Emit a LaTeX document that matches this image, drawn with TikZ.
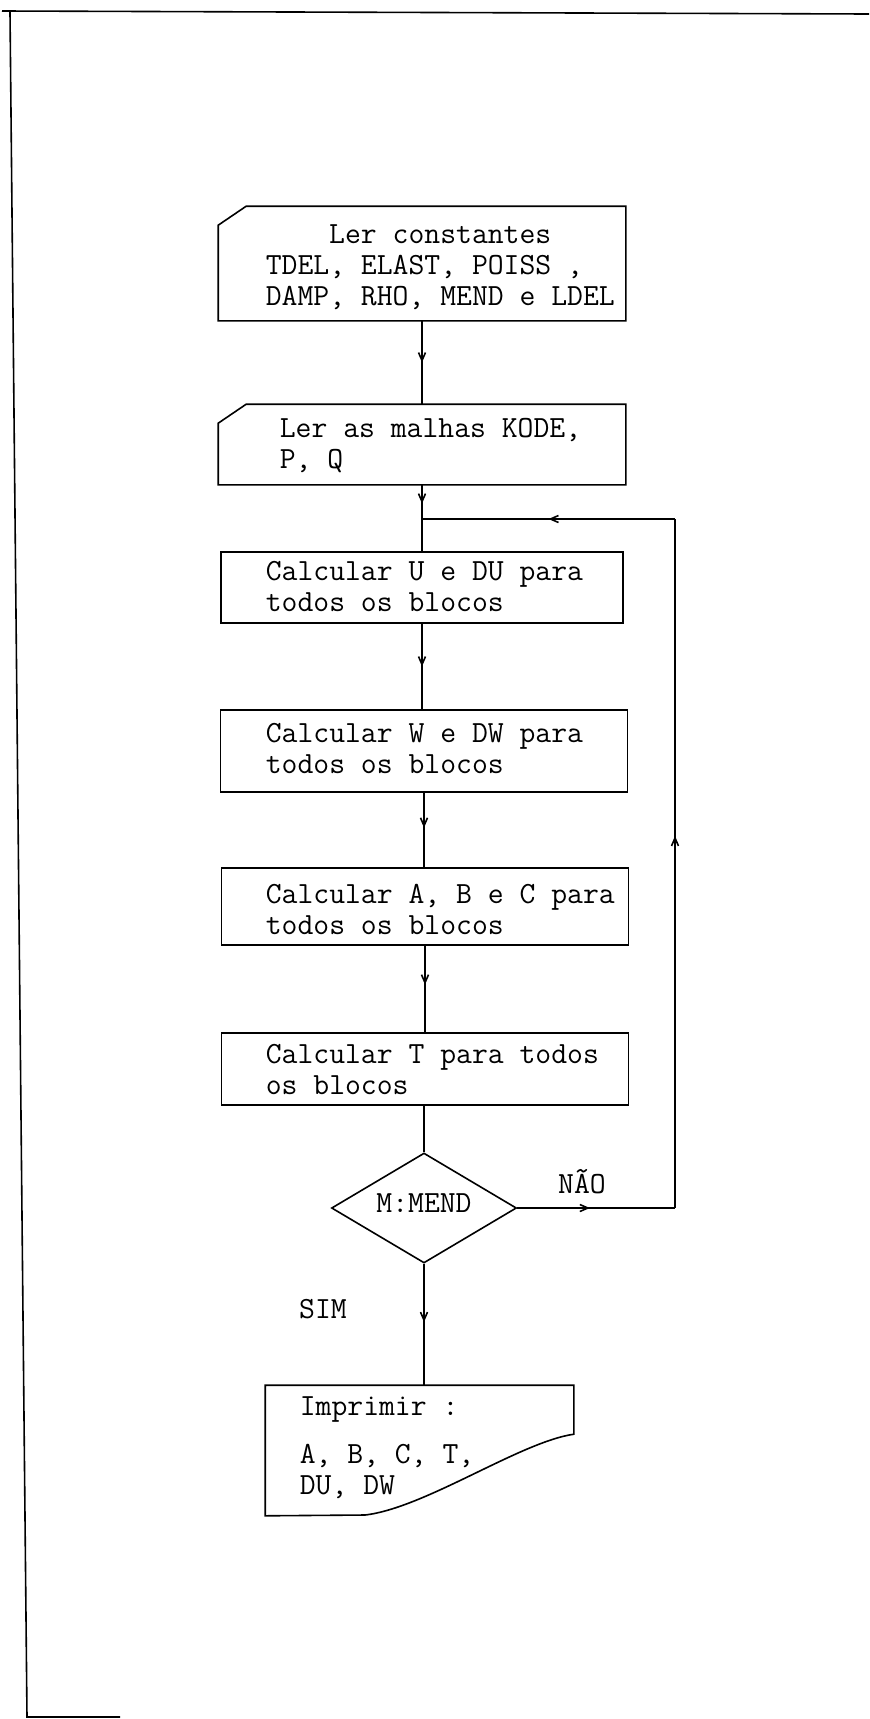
\documentclass[tikz,border=0pt]{standalone}
\usetikzlibrary{shapes.geometric,arrows.meta,decorations.markings}
\tikzset{
  flow/.style = {postaction = {decorate}, decoration = {markings, mark = at position #1 with {\arrow{Straight Barb[length = 4pt, width = 3.5pt]}}}},
  flow/.default = 0.5,
  blk/.style = {draw, inner sep = 0pt},
  card/.style = {inner sep = 0pt},
  dec/.style = {draw, diamond, aspect = 1.68, minimum width = 92.5pt, minimum height = 55pt, inner sep = 0pt, font = \ttfamily\fontsize{15.4}{16}\selectfont},
  txt/.style = {anchor = north west, align = left, inner sep = 0pt, font = \ttfamily\fontsize{15.4}{15.5}\selectfont},
  lbl/.style = {inner sep = 0pt, font = \ttfamily\fontsize{15.4}{16}\selectfont}
}
\begin{document}
\begin{tikzpicture}[x = 0.5pt, y = -0.5pt, line width = 0.8pt]
  \useasboundingbox (0,0) rectangle (869,1719);
  \draw (2,11) -- (869,14);
  \draw (10,12) -- (27,1717) -- (120,1717);

  \node [card, minimum width = 203pt, minimum height = 56.5pt] (b1) at (422,263.5) {};
  \node [card, minimum width = 203pt, minimum height = 39.5pt] (b2) at (422,444.5) {};
  \foreach \n in {b1, b2}{
    \draw (\n.north west) ++(0,19) -- ++(28,-19) -- (\n.north east) |- (\n.south west) -- cycle;
  }
  \node [blk, minimum width = 201pt, minimum height = 35.5pt] (b3) at (422,587.5) {};
  \node [blk, minimum width = 203.5pt, minimum height = 41pt] (b4) at (424,751) {};
  \node [blk, minimum width = 203.5pt, minimum height = 38.5pt] (b5) at (425,906.5) {};
  \node [blk, minimum width = 203.5pt, minimum height = 36pt] (b6) at (425,1069) {};
  \node [dec] (dec) at (424,1208) {\raisebox{5pt}{M:MEND}};
  \node [card, minimum width = 153.5pt, minimum height = 64.5pt] (pr) at (419.5,1450.5) {};
  \draw (pr.south west) |- (pr.north east) -- ++(0,49) .. controls (520,1442) and (425,1508) .. (365,1515) -- cycle;

  \node [txt] (t1) at (265,224) {\phantom{xxxx}Ler constantes\\TDEL, ELAST, POISS ,\\DAMP, RHO, MEND e LDEL};
  \node [txt] (t2) at (279,418) {Ler as malhas KODE,\\P, Q};
  \node [txt] (t3) at (265,561) {Calcular U e DU para\\todos os blocos};
  \node [txt] (t4) at (265,723) {Calcular W e DW para\\todos os blocos};
  \node [txt] (t5) at (265,883) {Calcular A, B e C para\\todos os blocos};
  \node [txt] (t6) at (265,1043) {Calcular T para todos\\os blocos};
  \node [txt] (t7) at (299,1396) {Imprimir :\\[8.5pt]A, B, C, T,\\DU, DW};
  \node [lbl] (nao) at (582,1182) {NÃO};
  \node [lbl] (sim) at (323,1309) {SIM};

  \coordinate (jn) at (422,519);
  \coordinate (nr) at (675,1208);
  \coordinate (nt) at (675,519);
  \draw [flow] (b1.south) -- (b1.south |- b2.north);
  \draw [flow = 0.55] (b2.south) -- (jn);
  \draw (jn) -- (b3.north);
  \draw [flow] (b3.south) -- (b3.south |- b4.north);
  \draw [flow = 0.47] (b4.south) -- (b4.south |- b5.north);
  \draw [flow = 0.45] (b5.south) -- (b5.south |- b6.north);
  \draw (dec.north |- b6.south) -- (dec.north);
  \draw [flow = 0.48] (dec.south) -- (dec.south |- pr.north);
  \draw [flow = 0.46] (dec.east) -- (nr);
  \draw [flow = 0.54] (nr) -- (nt);
  \draw [flow] (nt) -- (jn);
\end{tikzpicture}
\end{document}
